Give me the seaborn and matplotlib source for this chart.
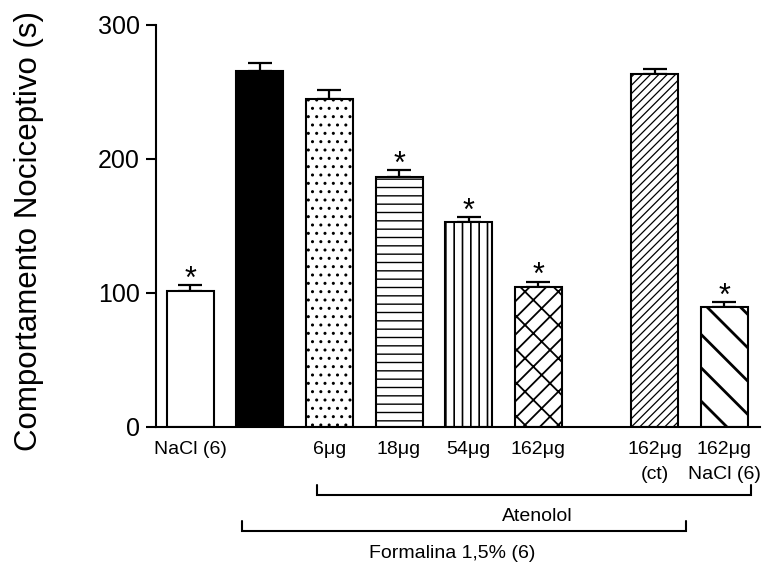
import numpy as np
import pandas as pd
import matplotlib
matplotlib.use("Agg")
import matplotlib.pyplot as plt
import seaborn as sns

# ---- data ----
tick_labels = ["NaCl (6)", "", "6μg", "18μg", "54μg", "162μg", "162μg\n(ct)", "162μg\nNaCl (6)"]
positions = [0, 1, 2, 3, 4, 5, 6.67, 7.67]
means = [101.5, 265.5, 244.6, 186.7, 153.1, 104.2, 263.0, 89.7]
sems = [4.5, 6.2, 6.7, 4.9, 3.3, 4.2, 4.0, 3.7]
significant = [True, False, False, True, True, True, False, True]
hatches = ["", "", "..", "--", "||", "//\\", "////", "\\"]
facecolors = ["white", "black", "white", "white", "white", "white", "white", "white"]
hatch_lw = [1.0, 1.0, 1.0, 1.0, 1.2, 1.3, 0.9, 2.0]

sns.set_style("ticks", {"axes.edgecolor": "black", "text.color": "black",
                        "axes.labelcolor": "black", "xtick.color": "black",
                        "ytick.color": "black"})
plt.rcParams["font.family"] = ["Liberation Sans", "DejaVu Sans"]
plt.rcParams["hatch.linewidth"] = 1.0

fig = plt.figure(figsize=(7.63, 5.71), dpi=100)
ax = fig.add_axes([155.6 / 763, 1 - 427 / 571, (760 - 155.6) / 763, (427 - 24.7) / 571])

df = pd.DataFrame({"pos": positions, "mean": means})
sns.barplot(data=df, x="pos", y="mean", native_scale=True, orient="x",
            width=0.675, color="white", edgecolor="black", linewidth=1.5,
            errorbar=None, ax=ax, zorder=2)

for p, fc, h, hl in zip(ax.patches, facecolors, hatches, hatch_lw):
    p.set_facecolor(fc)
    p.set_hatch(h)
    if hasattr(p, "set_hatch_linewidth"):
        p.set_hatch_linewidth(hl)

ax.errorbar(positions, means, yerr=[np.zeros(len(sems)), sems], fmt="none",
            ecolor="black", elinewidth=1.6, capsize=8.5, capthick=1.6, zorder=1)

for x, m, s, sig in zip(positions, means, sems, significant):
    if sig:
        ax.text(x, m + s - 2.0, "*", ha="center", va="baseline", fontsize=22,
                color="black")

ax.set_xlim(-0.494, 8.18)
ax.set_ylim(0, 300)
ax.set_yticks([0, 100, 200, 300])
ax.set_xticks(positions)
ax.set_xticklabels(tick_labels, fontsize=14, linespacing=1.6)
ax.tick_params(axis="x", length=0, pad=10, colors="black")
ax.tick_params(axis="y", length=7.5, width=1.5, labelsize=18, pad=4, colors="black")
for s in ["top", "right"]:
    ax.spines[s].set_visible(False)
for s in ["left", "bottom"]:
    ax.spines[s].set_linewidth(1.5)
    ax.spines[s].set_color("black")
ax.set_xlabel("")
ax.set_ylabel("Comportamento Nociceptivo (s)", fontsize=22.5, color="black")
ax.yaxis.set_label_coords(-0.185, 0.487)

# brackets
def bracket(x0, x1, y, ytop):
    ax.plot([x0, x0, x1, x1], [ytop, y, y, ytop], color="black", lw=1.5,
            clip_on=False, solid_joinstyle="miter")

bracket(1.82, 8.05, -50.7, -42.9)
ax.text(4.98, -66.4, "Atenolol", ha="center", va="center", fontsize=14, color="black")
bracket(0.742, 7.116, -77.9, -70.1)
ax.text(3.76, -94.0, "Formalina 1,5% (6)", ha="center", va="center", fontsize=14,
        color="black")

fig.savefig("out.png", dpi=100)
